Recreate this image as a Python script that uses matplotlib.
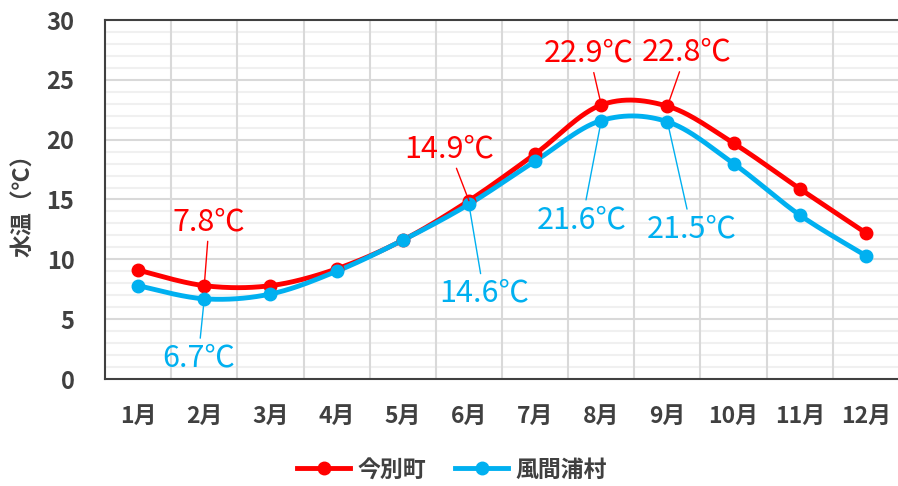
import matplotlib
matplotlib.use('Agg')
import matplotlib.pyplot as plt
from matplotlib.lines import Line2D
from matplotlib.ticker import MultipleLocator
import numpy as np

plt.rcParams['font.family'] = ['Noto Sans CJK JP', 'DejaVu Sans']

months = ['1月', '2月', '3月', '4月', '5月', '6月', '7月', '8月', '9月', '10月', '11月', '12月']
imabetsu = [9.1, 7.8, 7.8, 9.2, 11.6, 14.9, 18.8, 22.9, 22.8, 19.7, 15.9, 12.2]
kazamaura = [7.8, 6.7, 7.1, 9.0, 11.6, 14.6, 18.2, 21.6, 21.5, 18.0, 13.7, 10.3]
names = ['今別町', '風間浦村']

RED = '#FF0000'
BLUE = '#00B0F0'
TXT = '#404040'

# labelled points: (month index, offset in pixels)
red_labels = [(1, (5, 64)), (5, (-20, 52)), (7, (-12, 52)), (8, (19, 54))]
blue_labels = [(1, (-6, -59)), (5, (15, -89)), (7, (-19, -99)), (8, (24, -107))]


def smooth(x, y, n=30):
    # excel-like smoothed line (catmull-rom as cubic bezier)
    x = np.asarray(x, float); y = np.asarray(y, float)
    px = np.concatenate([[x[0]], x, [x[-1]]])
    py = np.concatenate([[y[0]], y, [y[-1]]])
    xs, ys = [], []
    t = np.linspace(0, 1, n)
    for i in range(1, len(px) - 2):
        p0 = np.array([px[i], py[i]]); p3 = np.array([px[i + 1], py[i + 1]])
        p1 = p0 + (p3 - np.array([px[i - 1], py[i - 1]])) / 6
        p2 = p3 - (np.array([px[i + 2], py[i + 2]]) - p0) / 6
        b = ((1 - t) ** 3)[:, None] * p0 + (3 * (1 - t) ** 2 * t)[:, None] * p1 \
            + (3 * (1 - t) * t ** 2)[:, None] * p2 + (t ** 3)[:, None] * p3
        xs.extend(b[:, 0]); ys.extend(b[:, 1])
    return xs, ys


fig = plt.figure(figsize=(8.98, 4.86), dpi=100)
ax = fig.add_axes([105 / 898, 107 / 486, 794 / 898, 359 / 486])

x = np.arange(1, 13)
for vals, c in [(imabetsu, RED), (kazamaura, BLUE)]:
    sx, sy = smooth(x, vals)
    ax.plot(sx, sy, color=c, lw=3.5, solid_capstyle='round', zorder=3)
    ax.plot(x, vals, 'o', color=c, ms=9, zorder=4)

for vals, labs, c in [(imabetsu, red_labels, RED), (kazamaura, blue_labels, BLUE)]:
    for i, off in labs:
        ax.annotate(f'{vals[i]:.1f}℃', xy=(x[i], vals[i]), xytext=off,
                    textcoords='offset pixels', ha='center', va='center',
                    fontsize=22, color=c, zorder=5,
                    arrowprops=dict(arrowstyle='-', color=c, lw=1, shrinkA=1, shrinkB=0))

ax.set_xlim(0.5, 12.5)
ax.set_ylim(0, 30)
ax.set_xticks(x)
ax.set_xticklabels(months)
ax.yaxis.set_major_locator(MultipleLocator(5))
ax.yaxis.set_minor_locator(MultipleLocator(1))
ax.grid(False)
for v in np.arange(1.5, 12.5, 1):
    ax.axvline(v, color='#D9D9D9', lw=1.5, zorder=1)
for v in range(1, 30):
    ax.axhline(v, color='#D9D9D9' if v % 5 == 0 else '#F0F0F0', lw=1.5, zorder=1 if v % 5 == 0 else 0.5)

ax.tick_params(which='both', length=0)
ax.tick_params(axis='y', pad=22, labelsize=17, labelcolor=TXT)
ax.tick_params(axis='x', pad=19, labelsize=16.5, labelcolor=TXT)
for lab in ax.get_xticklabels() + ax.get_yticklabels():
    lab.set_fontweight('bold')

for s in ['left', 'bottom', 'top']:
    ax.spines[s].set_color(TXT)
    ax.spines[s].set_linewidth(1.5)
ax.spines['right'].set_visible(False)

ax.set_ylabel('水温（℃）', fontsize=16.5, fontweight='bold', color=TXT, labelpad=8)

handles = [Line2D([], [], color=RED, lw=3.5, marker='o', ms=9),
           Line2D([], [], color=BLUE, lw=3.5, marker='o', ms=9)]
leg = fig.legend(handles, names, loc='center', bbox_to_anchor=(452 / 898, 1 - 470 / 486),
                 ncol=2, frameon=False, fontsize=16.5, handlelength=2.3, columnspacing=1.3,
                 handletextpad=0.3)
for t in leg.get_texts():
    t.set_color(TXT)
    t.set_fontweight('bold')

fig.savefig('out.png', dpi=100)
